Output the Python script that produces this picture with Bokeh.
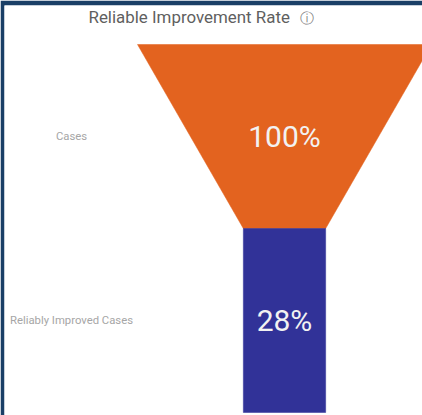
from bokeh.plotting import figure
from bokeh.models import Range1d, Label, ColumnDataSource
from bokeh.core.properties import value
from bokeh.embed import file_html
from bokeh.resources import INLINE

categories = ["Cases", "Reliably Improved Cases"]
values = [100, 28]
value_labels = ["100%", "28%"]
title_text = "Reliable Improvement Rate"

NAVY = "#1a3f66"
ORANGE = "#e3631f"
BLUE = "#313298"

W, H = 422, 415
L, T = 4, 5            # frame border
CX = 284 - L           # funnel centre within the frame
PX_PER_UNIT = 2.94
ROW_PX = 184
TOP_PX = 44 - T
FW, FH = W - L, H - T

x_range = Range1d(-CX / PX_PER_UNIT, (FW - CX) / PX_PER_UNIT)
y_range = Range1d((FH - TOP_PX) / ROW_PX, -TOP_PX / ROW_PX)

p = figure(width=W, height=H, x_range=x_range, y_range=y_range,
           output_backend="svg", toolbar_location=None,
           min_border_left=L, min_border_top=T, min_border_right=0, min_border_bottom=0,
           border_fill_color=NAVY, background_fill_color="white", outline_line_color=None)
p.xaxis.visible = False
p.yaxis.visible = False
p.grid.visible = False

# Stage 0 narrows from its own value to the next one; the last stage stays straight
next_values = values[1:] + values[-1:]
colors = [ORANGE, BLUE]
xs, ys = [], []
for i, (a, b) in enumerate(zip(values, next_values)):
    xs.append([-a / 2, a / 2, b / 2, -b / 2])
    ys.append([i, i, i + 1, i + 1])
p.patches(xs, ys, fill_color=colors, line_color=colors, line_width=0.5)

centres = [i + 0.5 for i in range(len(values))]
src = ColumnDataSource(dict(x=[0] * len(values), y=centres, t=value_labels))
p.text("x", "y", text="t", source=src, text_color="#f2f2f2", text_align="center",
       text_baseline="middle", text_font=value("Roboto"), text_font_size="30px")

label_x = (71 - L - CX) / PX_PER_UNIT
src2 = ColumnDataSource(dict(x=[label_x] * len(categories), y=centres, t=categories))
p.text("x", "y", text="t", source=src2, text_color="#a6a6a6", text_align="center",
       text_baseline="middle", text_font=value("Roboto"), text_font_size="11.3px")

p.add_layout(Label(x=84, y=H - 16, x_units="screen", y_units="screen", text=title_text,
                   text_font="Roboto", text_font_size="16.9px", text_color="#5f5f5f",
                   text_align="left", text_baseline="middle"))
p.add_layout(Label(x=302, y=H - 17, x_units="screen", y_units="screen", text="\u24d8",
                   text_font="DejaVu Sans", text_font_size="14px", text_color="#808080",
                   text_align="center", text_baseline="middle"))

open("out.html", "w").write(file_html(p, INLINE))
